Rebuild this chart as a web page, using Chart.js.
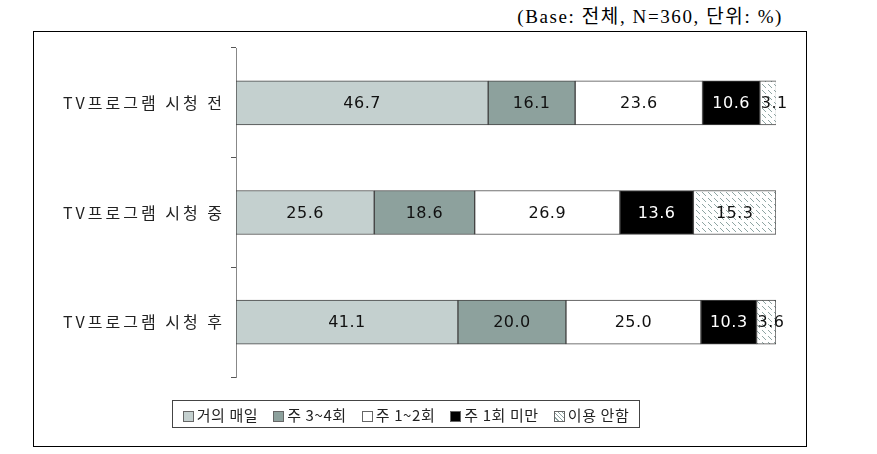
<!DOCTYPE html>
<html>
<head>
<meta charset="utf-8">
<script src="https://cdn.jsdelivr.net/npm/chart.js@4.4.1/dist/chart.umd.min.js"></script>
<style>
  body { margin: 0; background: #fff; width: 877px; height: 454px; position: relative; overflow: hidden; }
  #frame { position: absolute; left: 33px; top: 31px; width: 772px; height: 414px; border: 1px solid #000; }
  #note { position: absolute; right: 94px; top: 1px; font: 19px "Liberation Serif", "Noto Sans CJK KR", serif; letter-spacing: 1.6px; color: #000; }
  #chartBox { position: absolute; left: 0; top: 0; width: 877px; height: 454px; }
  #legend { position: absolute; left: 172px; top: 400px; width: 466px; height: 26px; border: 1px solid #444;
    display: flex; align-items: center; justify-content: center; gap: 15px; white-space: nowrap;
    font: 15px "Noto Sans CJK KR", sans-serif; letter-spacing: 0.6px; color: #222; }
  #legend span.sw { display: inline-block; width: 9px; height: 9px; border: 1px solid #666; margin-right: 3px; vertical-align: -1px; }
</style>
</head>
<body>
<div id="frame"></div>
<div id="note">(Base: 전체, N=360, 단위: %)</div>
<div id="chartBox"><canvas id="barChart" width="877" height="454"></canvas></div>
<div id="legend"></div>
<script>
// data
var categories = ["TV프로그램 시청 전", "TV프로그램 시청 중", "TV프로그램 시청 후"];
var seriesNames = ["거의 매일", "주 3~4회", "주 1~2회", "주 1회 미만", "이용 안함"];
var almostDaily = [46.7, 25.6, 41.1];
var threeFour = [16.1, 18.6, 20.0];
var oneTwo = [23.6, 26.9, 25.0];
var underOne = [10.6, 13.6, 10.3];
var notUsed = [3.1, 15.3, 3.6];
var xTicks = [0, 100];

// hatched fill for "이용 안함"
function makeHatch() {
  var c = document.createElement("canvas");
  c.width = 6; c.height = 6;
  var g = c.getContext("2d");
  g.fillStyle = "#fff";
  g.fillRect(0, 0, 6, 6);
  g.strokeStyle = "#8fa5a3";
  g.lineWidth = 1;
  g.beginPath();
  g.moveTo(0, 0); g.lineTo(4, 4);
  g.stroke();
  return g.createPattern(c, "repeat");
}

var fills = ["#c4d0cf", "#8da19d", "#ffffff", "#000000", makeHatch()];
var textColors = ["#111", "#111", "#111", "#fff", "#111"];
var swatchCss = ["#c4d0cf", "#8da19d", "#fff", "#000",
  "repeating-linear-gradient(45deg, #fff 0 2px, #8fa5a3 2px 3px)"];
var values = [almostDaily, threeFour, oneTwo, underOne, notUsed];

var legendEl = document.getElementById("legend");
seriesNames.forEach(function (name, i) {
  var item = document.createElement("div");
  var sw = document.createElement("span");
  sw.className = "sw";
  sw.style.background = swatchCss[i];
  item.appendChild(sw);
  item.appendChild(document.createTextNode(name));
  legendEl.appendChild(item);
});

// wider letter spacing for the category labels
var spacing = {
  id: "spacing",
  beforeDraw: function (chart) { chart.ctx.letterSpacing = "3px"; },
  afterDraw: function (chart) { chart.ctx.letterSpacing = "0px"; }
};

//draws the numbers inside each segment
var valueLabels = {
  id: "valueLabels",
  afterDatasetsDraw: function (chart) {
    var ctx = chart.ctx;
    ctx.save();
    ctx.letterSpacing = "0.5px";
    ctx.font = '16px "DejaVu Sans", sans-serif';
    ctx.textBaseline = "middle";
    chart.data.datasets.forEach(function (ds, i) {
      chart.getDatasetMeta(i).data.forEach(function (bar, j) {
        var txt = ds.data[j].toFixed(1);
        var p = bar.getCenterPoint();
        var w = ctx.measureText(txt).width;
        var segW = Math.abs(bar.x - bar.base);
        ctx.fillStyle = textColors[i];
        if (w + 2 > segW) {
          ctx.textAlign = "left";
          ctx.fillText(txt, Math.min(bar.x, bar.base) + 1, p.y + 1);
        } else {
          ctx.textAlign = "center";
          ctx.fillText(txt, p.x, p.y + 1);
        }
      });
    });
    ctx.restore();
  }
};

var myChart = new Chart(document.getElementById("barChart").getContext("2d"), {
  type: "bar",
  data: {
    labels: categories,
    datasets: seriesNames.map(function (name, i) {
      return {
        label: name,
        data: values[i],
        backgroundColor: fills[i],
        borderColor: "#444",
        borderWidth: 1,
        borderSkipped: false,
        barThickness: 44
      };
    })
  },
  options: {
    indexAxis: "y",
    responsive: false,
    animation: false,
    layout: { padding: { top: 48, right: 101, bottom: 77, left: 0 } },
    plugins: { legend: { display: false }, tooltip: { enabled: false } },
    scales: {
      x: {
        stacked: true,
        display: false,
        min: xTicks[0],
        max: xTicks[1]
      },
      y: {
        stacked: true,
        afterFit: function (scale) { scale.width = 236; },
        grid: { drawOnChartArea: false, drawTicks: true, tickLength: 5, offset: true, color: "#555" },
        border: { display: true, color: "#888" },
        ticks: { padding: 6, color: "#222", font: { family: "Noto Sans CJK KR", size: 16 } }
      }
    }
  },
  plugins: [spacing, valueLabels]
});
</script>
</body>
</html>
